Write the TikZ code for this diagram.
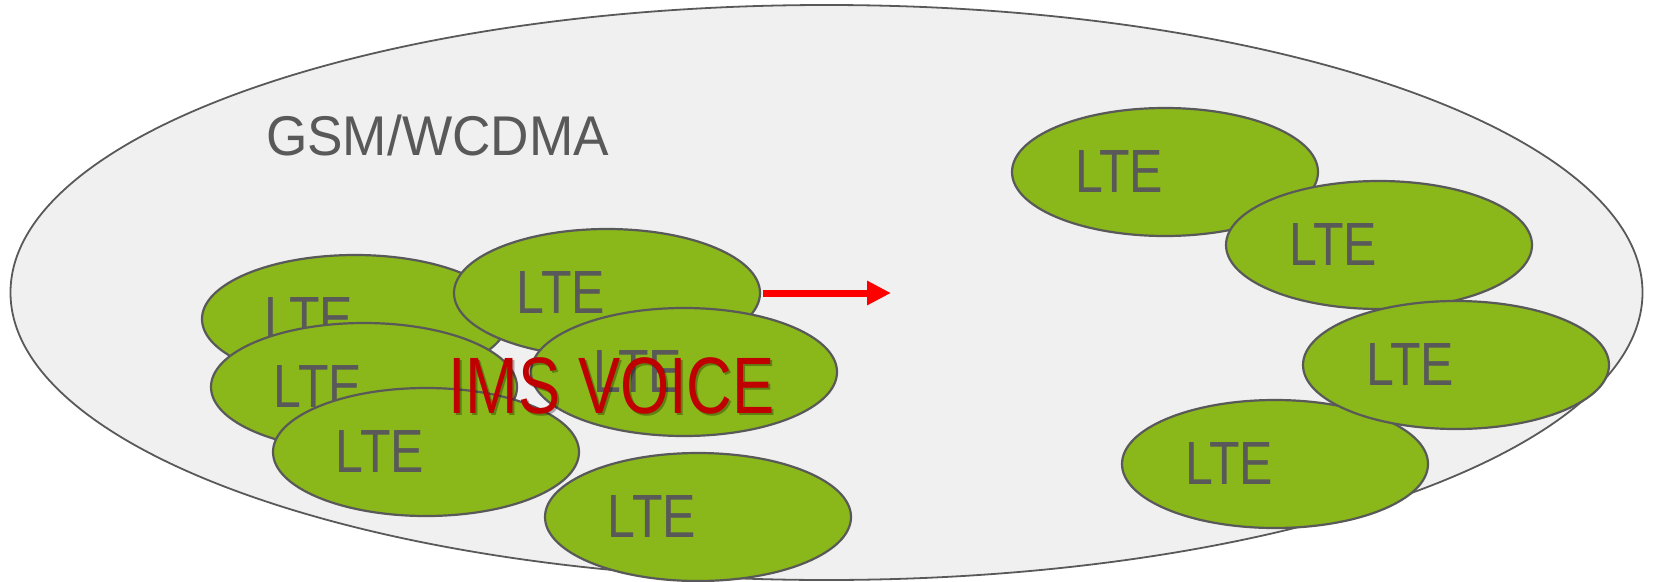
\documentclass[tikz,border=0pt]{standalone}
\usepackage{graphicx}
\usepackage{fontspec}
\setmainfont{Liberation Sans}
\usetikzlibrary{shapes.geometric,arrows.meta}
\definecolor{ltegreen}{HTML}{8AB71A}
\definecolor{rimgray}{HTML}{595959}
\definecolor{areagray}{HTML}{EFF0EF}
\definecolor{voicered}{HTML}{C00000}

\begin{document}
\begin{tikzpicture}[x=1pt,y=-1pt,
    cell/.style={ellipse,draw=rimgray,line width=2.2pt,fill=ltegreen,
      minimum width=306pt,minimum height=128pt,inner sep=0pt,
      label={[celltext]center:\scalebox{0.82}[1]{LTE}}},
    celltext/.style={xshift=-46pt,inner sep=0pt,text=rimgray,
      font=\fontsize{61}{61}\selectfont}]
    \useasboundingbox (0,0) rectangle (1653,581);
    % coverage area
    \node[ellipse,draw=rimgray,line width=1.8pt,fill=areagray,
      minimum width=1632pt,minimum height=575pt,inner sep=0pt] (gsm) at (826.5,292.5) {};
    \node[anchor=base,inner sep=0pt,text=rimgray,font=\fontsize{56}{56}\selectfont]
      (gsmlabel) at (437.5,155) {\scalebox{0.95}[1]{GSM/WCDMA}};
    % islands, left
    \node[cell] (a) at (355,319) {};
    \node[cell] (b) at (607,293) {};
    \node[cell] (c) at (364,387) {};
    \node[cell] (e) at (426,452) {};
    \node[cell] (d) at (684,372) {};
    \node[cell] (f) at (698,517) {};
    % islands, right
    \node[cell] (r1) at (1165,172) {};
    \node[cell] (r2) at (1379,245) {};
    \node[cell] (r4) at (1275,464) {};
    \node[cell] (r3) at (1456,365) {};
    % growth
    \coordinate (arrowtip) at (891,293);
    \draw[-{Triangle[length=24pt,width=23pt]},red,line width=7pt,shorten <=2pt] (b.east) -- (arrowtip);
    \node[anchor=base,inner sep=0pt,text=black,opacity=0.3,font=\fontsize{80}{80}\selectfont]
      (voiceshadow) at (613.5,415.5) {\scalebox{0.79}[1]{IMS VOICE}};
    \node[anchor=base,inner sep=0pt,text=voicered,font=\fontsize{80}{80}\selectfont]
      (voice) at (611.5,413) {\scalebox{0.79}[1]{IMS VOICE}};
\end{tikzpicture}
\end{document}
